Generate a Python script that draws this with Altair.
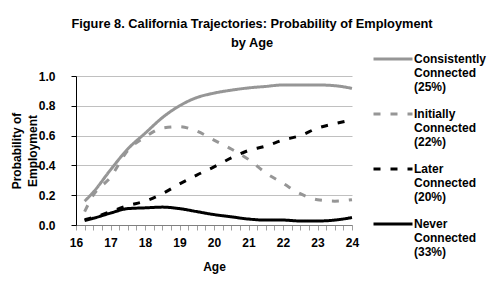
import altair as alt
import pandas as pd

ages = [16.25, 16.5, 17, 17.5, 18, 18.5, 19, 19.5, 20, 20.5, 21, 21.5, 22, 22.5, 23, 23.5, 24]
consistently = [0.16, 0.22, 0.37, 0.51, 0.615, 0.72, 0.80, 0.855, 0.885, 0.905, 0.92, 0.93, 0.94, 0.94, 0.94, 0.935, 0.917]
initially = [0.09, 0.20, 0.32, 0.50, 0.59, 0.65, 0.66, 0.63, 0.57, 0.51, 0.44, 0.35, 0.28, 0.21, 0.17, 0.16, 0.17]
later = [0.035, 0.05, 0.09, 0.13, 0.16, 0.21, 0.275, 0.335, 0.39, 0.45, 0.50, 0.53, 0.57, 0.60, 0.65, 0.68, 0.705]
never = [0.03, 0.045, 0.08, 0.11, 0.115, 0.12, 0.11, 0.09, 0.07, 0.055, 0.04, 0.033, 0.033, 0.027, 0.027, 0.033, 0.05]

series_names = ["Consistently Connected (25%)", "Initially Connected (22%)",
                "Later Connected (20%)", "Never Connected (33%)"]
series_vals = [consistently, initially, later, never]
colors = ["#969696", "#969696", "#000000", "#000000"]
dashes = [[1, 0], [7, 10], [7, 10], [1, 0]]

rows = []
for name, vals in zip(series_names, series_vals):
    for a, v in zip(ages, vals):
        rows.append({"Age": a, "Prob": v, "Series": name})
df = pd.DataFrame(rows)

x_ticks = [16 + 0.25 * i for i in range(33)]

legend = alt.Legend(
    title=None, orient="none", legendX=296, legendY=-38,
    labelExpr="split(datum.label, ' ')",
    symbolType="stroke", symbolSize=1521, symbolStrokeWidth=3,
    labelFontSize=12, labelFont="Liberation Sans",
    labelFontWeight="bold", labelLimit=200, rowPadding=-1,
    labelBaseline="middle", labelOffset=0, labelColor="#000",
)

base = alt.Chart(df).mark_line(strokeWidth=3, interpolate="monotone").encode(
    x=alt.X("Age:Q", scale=alt.Scale(domain=[16, 24], nice=False),
            axis=alt.Axis(values=x_ticks, title="Age",
                          labelExpr="datum.value % 1 == 0 ? datum.value : ''",
                          labelFlush=False,
                          grid=False, tickColor="#a0a0a0", tickSize=5,
                          domainColor="#808080", labelPadding=7, titlePadding=13)),
    y=alt.Y("Prob:Q", scale=alt.Scale(domain=[0, 1]),
            axis=alt.Axis(values=[0, 0.2, 0.4, 0.6, 0.8, 1.0], format=".1f",
                          title=["Probability of", "Employment"],
                          titleX=-60, titleY=74.5, titleAngle=270,
                          titleAlign="center", titleBaseline="middle",
                          titleLineHeight=16, labelFlush=False,
                          gridColor="#c0c0c0", domainColor="#000000",
                          tickColor="#000000", tickSize=5, labelPadding=16)),
    color=alt.Color("Series:N", scale=alt.Scale(domain=series_names, range=colors),
                    legend=legend),
    strokeDash=alt.StrokeDash("Series:N", scale=alt.Scale(domain=series_names, range=dashes),
                              legend=legend),
)

chart = base.properties(
    width=276, height=149,
    autosize=alt.AutoSizeParams(type="none"),
    padding={"left": 68, "top": 68, "right": 137, "bottom": 57},
    title=alt.TitleParams(
        ["Figure 8. California Trajectories: Probability of Employment", "by Age"],
        fontSize=12.8, font="Liberation Sans", fontWeight="bold", anchor="middle",
        dx=38, dy=22, lineHeight=19, offset=10, color="#000"),
).configure_axis(
    labelFont="Liberation Sans", labelFontSize=12, labelFontWeight="bold", labelColor="#000",
    titleFont="Liberation Sans", titleFontSize=12, titleFontWeight="bold", titleColor="#000",
).configure_view(stroke=None)

chart.save("out.html", embed_options={"renderer": "svg", "actions": False})
